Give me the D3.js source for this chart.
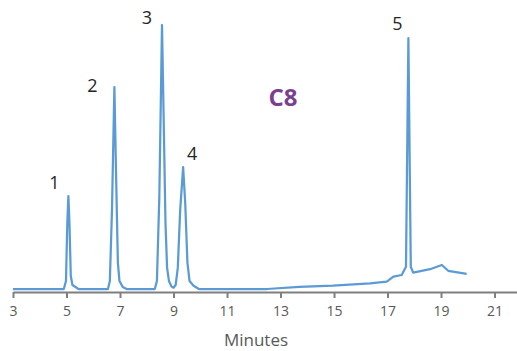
<!DOCTYPE html>
<html>
<head>
<meta charset="utf-8">
<script src="https://cdn.jsdelivr.net/npm/d3@7"></script>
<style>
  body { margin: 0; background: #fff; }
  text { font-family: "Open Sans", sans-serif; }
</style>
</head>
<body>
<svg id="chart" width="517" height="351"></svg>
<script>
// retention time (minutes) and detector signal (relative units)
var times = [3.0, 4.9, 4.98, 5.03, 5.07, 5.11, 5.16, 5.22, 5.45,
  6.55, 6.62, 6.7, 6.79, 6.86, 6.92, 6.98, 7.1, 7.25,
  8.3, 8.38, 8.47, 8.57, 8.64, 8.7, 8.76, 8.83, 8.92, 9.0, 9.08, 9.16, 9.25, 9.36, 9.44, 9.52, 9.6, 9.75, 9.95,
  12.5, 13.7, 14.96, 16.35, 16.97, 17.22, 17.53, 17.69, 17.78, 17.87, 17.96, 18.59, 19.03, 19.27, 19.96];
var signal = [0, 0, 3, 25, 35.2, 25, 5, 1.5, 0,
  0, 3, 30, 76.5, 40, 10, 3, 0.8, 0,
  0, 3, 35, 100, 60, 25, 8, 3, 1, 0.5, 1.5, 8, 30, 46.2, 32, 10, 3, 1.2, 0,
  0, 0.76, 1.25, 2.16, 2.77, 4.66, 5.3, 8.4, 95, 8.4, 6.2, 7.5, 9.1, 6.9, 5.7];

var peakNames = ["1", "2", "3", "4", "5"];
var peakTimes = [5.07, 6.79, 8.57, 9.36, 17.78];
var peakSignal = [35.2, 76.5, 100, 46.2, 95];

var xTicks = [3, 5, 7, 9, 11, 13, 15, 17, 19, 21];

var svg = d3.select("#chart");

var x = d3.scaleLinear().domain([3, 21.84]).range([13, 517]);
var y = d3.scaleLinear().domain([0, 100]).range([289, 25]);

// x axis
var xAxis = svg.append("g")
  .attr("transform", "translate(0,292)")
  .call(d3.axisBottom(x).tickValues(xTicks).tickSize(6).tickPadding(8).tickSizeOuter(0));
xAxis.select(".domain").attr("stroke", "#7f7f7f").attr("stroke-width", 2);
xAxis.selectAll(".tick line").attr("stroke", "#7f7f7f").attr("stroke-width", 2);
xAxis.selectAll(".tick text")
  .attr("fill", "#595959")
  .style("font-size", "14px")
  .style("font-family", "'Open Sans', sans-serif");

svg.append("text")
  .attr("x", 256)
  .attr("y", 346)
  .attr("text-anchor", "middle")
  .attr("fill", "#595959")
  .style("font-size", "17px")
  .text("Minutes");

// trace
var pts = times.map(function (t, i) { return [t, signal[i]]; });
svg.append("path")
  .datum(pts)
  .attr("fill", "none")
  .attr("stroke", "#5B9BD5")
  .attr("stroke-width", 2.25)
  .attr("stroke-linejoin", "round")
  .attr("d", d3.line().x(function (d) { return x(d[0]); }).y(function (d) { return y(d[1]); }));

// peak labels, offset from the peak tops
var labelDx = [-14, -22, -15, 9, -11];
var labelDy = [-7.5, 4.5, -1, -7, -8.5];
svg.selectAll(".peak")
  .data(peakNames)
  .join("text")
  .attr("class", "peak")
  .attr("x", function (d, i) { return x(peakTimes[i]) + labelDx[i]; })
  .attr("y", function (d, i) { return y(peakSignal[i]) + labelDy[i]; })
  .attr("text-anchor", "middle")
  .attr("fill", "#262626")
  .style("font-size", "18px")
  .text(function (d) { return d; });

svg.append("text")
  .attr("x", 283)
  .attr("y", 106)
  .attr("text-anchor", "middle")
  .attr("fill", "#7B3F8F")
  .style("font-size", "24px")
  .style("font-weight", "bold")
  .text("C8");
</script>
</body>
</html>
